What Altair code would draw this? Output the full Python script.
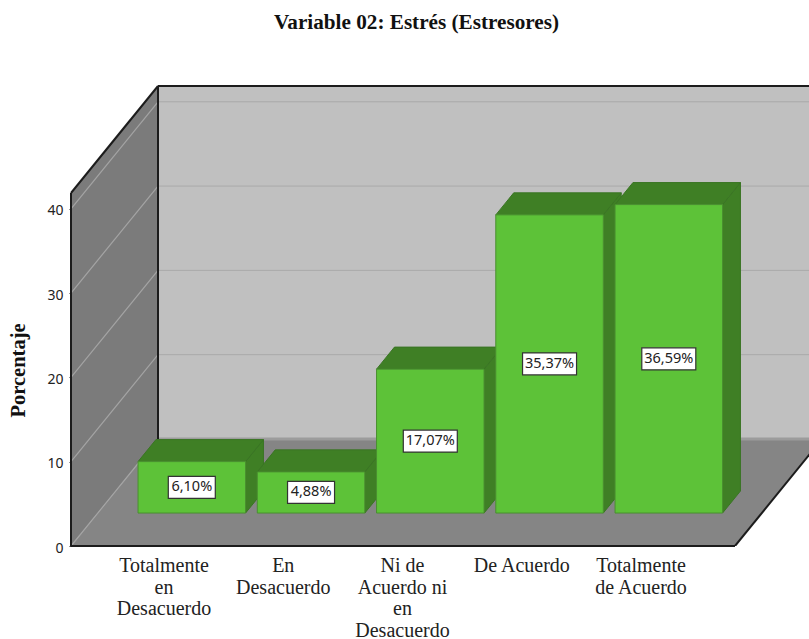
import altair as alt
import pandas as pd

# Survey results
categories = ["Totalmente\nen\nDesacuerdo", "En\nDesacuerdo", "Ni de\nAcuerdo ni\nen\nDesacuerdo", "De Acuerdo", "Totalmente\nde Acuerdo"]
values = [6.10, 4.88, 17.07, 35.37, 36.59]
y_ticks = [0, 10, 20, 30, 40]

# Plot frame and scale factors of the oblique projection
PX_Y = 8.43          # pixels per percentage point
PX_X = 119.25        # pixels per category slot
LEFT, TOP, W_PX, H_PX = 71, 70, 738, 476
XMAX = W_PX / PX_X
YMAX = H_PX / PX_Y

DEPTH_X = 87 / PX_X    # full floor depth, in slot units
DEPTH_Y = 107 / PX_Y   # full floor depth, in percentage units
FLOOR_W = 664 / PX_X   # width of the front floor edge
WALL_H = 353 / PX_Y    # height of the walls

FIRST_CENTER = 94 / PX_X
HALF_BAR = 53.75 / PX_X
D0, D1 = 0.308, 0.514  # depth range occupied by the bars


def px(d):
    return d * DEPTH_X


def py(d):
    return d * DEPTH_Y


x_scale = alt.Scale(domain=[0, XMAX], nice=False, zero=False)
y_scale = alt.Scale(domain=[0, YMAX], nice=False, zero=False)
y_axis = alt.Axis(
    values=y_ticks,
    title="Porcentaje",
    domain=False,
    grid=False,
    tickSize=2,
    tickColor="#333333",
    labelPadding=6,
    labelOffset=2,
    labelFont="Noto Sans",
    labelFontSize=14,
    labelColor="#222222",
    titleFont="Liberation Serif",
    titleFontSize=20.5,
    titleFontWeight="bold",
    titleColor="#111111",
    titleX=-43,
    titleY=300,
)
x_plain = alt.X("x:Q", scale=x_scale, axis=None)
y_plain = alt.Y("y:Q", scale=y_scale, axis=y_axis)

# Walls and floor
back_wall = alt.Chart(pd.DataFrame([{"x": DEPTH_X, "x2": XMAX, "y": DEPTH_Y, "y2": DEPTH_Y + WALL_H}])).mark_rect(
    color="#c0c0c0"
).encode(x=x_plain, x2="x2:Q", y=y_plain, y2="y2:Q")

left_wall = alt.Chart(pd.DataFrame([
    {"x": 0, "y": 0, "y2": WALL_H},
    {"x": DEPTH_X, "y": DEPTH_Y, "y2": DEPTH_Y + WALL_H},
])).mark_area(color="#7b7b7b", orient="vertical").encode(x=x_plain, y=y_plain, y2="y2:Q")

floor = alt.Chart(pd.DataFrame([
    {"y": 0, "x": 0, "x2": FLOOR_W},
    {"y": DEPTH_Y, "x": DEPTH_X, "x2": FLOOR_W + DEPTH_X},
])).mark_area(color="#858585", orient="horizontal", clip=True).encode(x=x_plain, x2="x2:Q", y=y_plain)

floor_band = alt.Chart(pd.DataFrame([{"x": DEPTH_X, "x2": XMAX, "y": DEPTH_Y}])).mark_rule(
    color="#9c9c9c", strokeWidth=3
).encode(x=x_plain, x2="x2:Q", y=y_plain)

# Grid lines on the back wall and across the side wall
grid_back = alt.Chart(pd.DataFrame([{"x": DEPTH_X, "x2": XMAX, "y": v + DEPTH_Y} for v in y_ticks[1:]])).mark_rule(
    color="#a9a9a9", strokeWidth=1
).encode(x=x_plain, x2="x2:Q", y=y_plain)

grid_side = alt.Chart(pd.DataFrame([{"x": 0, "x2": DEPTH_X, "y": v, "y2": v + DEPTH_Y} for v in y_ticks])).mark_rule(
    color="#a4a4a4", strokeWidth=1.2
).encode(x=x_plain, x2="x2:Q", y=y_plain, y2="y2:Q")

# Dark frame edges
edges = pd.DataFrame([
    {"x": 0, "x2": FLOOR_W, "y": 0, "y2": 0},
    {"x": FLOOR_W, "x2": FLOOR_W + DEPTH_X, "y": 0, "y2": DEPTH_Y},
    {"x": 0, "x2": 0, "y": 0, "y2": WALL_H},
    {"x": 0, "x2": DEPTH_X, "y": WALL_H, "y2": WALL_H + DEPTH_Y},
    {"x": DEPTH_X, "x2": DEPTH_X, "y": DEPTH_Y, "y2": DEPTH_Y + WALL_H},
    {"x": DEPTH_X, "x2": XMAX, "y": DEPTH_Y + WALL_H, "y2": DEPTH_Y + WALL_H},
])
frame = alt.Chart(edges.drop(index=1)).mark_rule(color="#1c1c1c", strokeWidth=2).encode(
    x=x_plain, x2="x2:Q", y=y_plain, y2="y2:Q"
)
# The floor's right edge runs past the frame, so it is clipped separately
frame_right = alt.Chart(edges.loc[[1]]).mark_rule(color="#1c1c1c", strokeWidth=2, clip=True).encode(
    x=x_plain, x2="x2:Q", y=y_plain, y2="y2:Q"
)

# Bars: side faces, top faces, then front faces
centers = [FIRST_CENTER + i for i in range(len(values))]
front_x0 = [c - HALF_BAR + px(D0) for c in centers]
front_x1 = [c + HALF_BAR + px(D0) for c in centers]

side_rows, top_rows, front_rows, label_rows = [], [], [], []
for i, v in enumerate(values):
    x0, x1 = front_x0[i], front_x1[i]
    base = py(D0)
    shift_x = px(D1 - D0)
    shift_y = py(D1 - D0)
    side_rows += [
        {"bar": i, "x": x1, "y": base, "y2": base + v},
        {"bar": i, "x": x1 + shift_x, "y": base + shift_y, "y2": base + v + shift_y},
    ]
    top_rows += [
        {"bar": i, "y": base + v, "x": x0, "x2": x1},
        {"bar": i, "y": base + v + shift_y, "x": x0 + shift_x, "x2": x1 + shift_x},
    ]
    front_rows.append({"x": x0, "x2": x1, "y": base, "y2": base + v})
    text = f"{v:.2f}%".replace(".", ",")
    half_w = (23.5 if len(text) == 5 else 27) / PX_X
    half_h = 11 / PX_Y
    mid_x = (x0 + x1) / 2
    mid_y = base + v / 2
    label_rows.append({
        "x": mid_x, "y": mid_y, "text": text,
        "bx": mid_x - half_w, "bx2": mid_x + half_w,
        "by": mid_y - half_h, "by2": mid_y + half_h,
    })

BAR_EDGE = "#3a7524"
side = alt.Chart(pd.DataFrame(side_rows)).mark_area(
    color="#3f7f25", orient="vertical", stroke=BAR_EDGE, strokeWidth=1
).encode(x=x_plain, y=y_plain, y2="y2:Q", detail="bar:N")
top = alt.Chart(pd.DataFrame(top_rows)).mark_area(
    color="#3f7f25", orient="horizontal", stroke=BAR_EDGE, strokeWidth=1
).encode(x=x_plain, x2="x2:Q", y=y_plain, detail="bar:N")
front = alt.Chart(pd.DataFrame(front_rows)).mark_rect(
    color="#5dc238", stroke="#4a8f30", strokeWidth=1
).encode(x=x_plain, x2="x2:Q", y=y_plain, y2="y2:Q")

# Value labels in white boxes
labels_df = pd.DataFrame(label_rows)
boxes = alt.Chart(labels_df).mark_rect(color="white", stroke="#333333", strokeWidth=1.2).encode(
    x=alt.X("bx:Q", scale=x_scale, axis=None),
    x2="bx2:Q",
    y=alt.Y("by:Q", scale=y_scale, axis=y_axis),
    y2="by2:Q",
)
label_text = alt.Chart(labels_df).mark_text(font="Noto Sans", fontSize=14.5, color="#222222").encode(
    x=x_plain, y=y_plain, text="text:N"
)

# Category labels below the floor
cat_df = pd.DataFrame({"x": centers, "y": [0] * len(centers), "label": categories})
cat_text = alt.Chart(cat_df).mark_text(
    font="Liberation Serif", fontSize=20, color="#222222", baseline="top",
    lineBreak="\n", lineHeight=21.5, dy=10, dx=-1,
).encode(x=x_plain, y=y_plain, text="label:N")

chart = alt.layer(
    back_wall, left_wall, floor, floor_band, grid_back, grid_side, frame, frame_right,
    side, top, front, boxes, label_text, cat_text,
).properties(
    width=W_PX,
    height=H_PX,
    autosize=alt.AutoSizeParams(type="none"),
    padding={"left": LEFT, "top": TOP, "right": 0, "bottom": 639 - TOP - H_PX},
    title=alt.TitleParams(
        "Variable 02: Estrés (Estresores)",
        font="Liberation Serif", fontSize=21.2, fontWeight="bold", color="#111111",
        anchor="start", dx=266, offset=37,
    ),
).configure_view(stroke=None)

chart.save("out.html", embed_options={"renderer": "svg", "actions": False})
